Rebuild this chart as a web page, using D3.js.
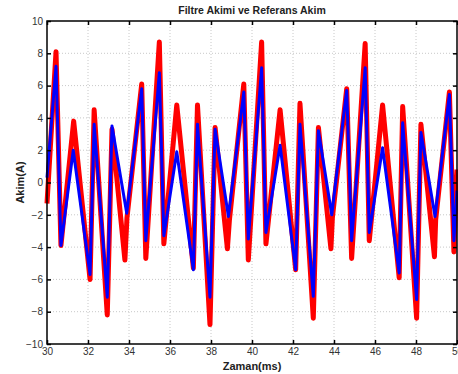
<!DOCTYPE html>
<html>
<head>
<meta charset="utf-8">
<script src="https://cdn.jsdelivr.net/npm/d3@7"></script>
<style>
  body { margin: 0; background: #fff; }
  svg { display: block; font-family: "Liberation Sans", Arial, sans-serif; }
  .tick text { fill: #333; font-size: 10px; }
</style>
</head>
<body>
<div id="chart"></div>
<script>
// Referans akim (blue) - corner points
const refTime = [30, 30.44, 30.68, 31.28, 32.1, 32.3, 32.94, 33.17, 33.89, 34.62, 34.82,
  35.48, 35.7, 36.33, 37.14, 37.34, 37.95, 38.2, 38.85, 39.6, 39.82,
  40.47, 40.68, 41.37, 42.13, 42.34, 42.99, 43.24, 43.89, 44.62, 44.86,
  45.52, 45.72, 46.37, 47.18, 47.35, 48.03, 48.24, 48.93, 49.63, 49.85, 50];
const refAkim = [0.3, 7.2, -3.9, 2.0, -5.7, 3.6, -7.1, 3.5, -1.9, 5.8, -3.6,
  6.8, -3.3, 1.9, -5.4, 3.6, -7.1, 3.3, -2.1, 5.6, -3.5,
  7.1, -3.1, 2.3, -5.4, 3.6, -7.05, 3.2, -2.0, 5.7, -3.6,
  7.1, -3.1, 2.15, -5.6, 3.7, -7.25, 3.1, -2.1, 5.45, -3.6, -0.5];

// Filtre akimi (red) - noisy, overshoots the reference at the corners
const filTime = [30, 30.44, 30.68, 31.3, 32.1, 32.3, 32.94, 33.17, 33.8, 33.9, 34.62, 34.82,
  35.48, 35.7, 36.33, 37.14, 37.34, 37.95, 38.2, 38.8, 38.9, 39.6, 39.82,
  40.47, 40.68, 41.37, 42.13, 42.34, 42.99, 43.24, 43.85, 43.92, 44.62, 44.86,
  45.52, 45.72, 46.37, 47.18, 47.35, 48.03, 48.24, 48.9, 48.96, 49.63, 49.85, 50];
const filAkim = [-1.3, 8.1, -3.9, 3.8, -6.0, 4.5, -8.2, 3.3, -4.8, -2.2, 6.1, -4.7,
  8.7, -3.8, 4.8, -5.3, 4.8, -8.8, 3.4, -4.1, -2.3, 6.1, -4.8,
  8.7, -3.8, 4.5, -5.4, 4.9, -8.4, 3.4, -4.1, -2.2, 5.8, -4.7,
  8.6, -3.6, 4.8, -5.9, 4.7, -8.4, 3.6, -4.6, -2.3, 5.6, -4.3, 0.8];

const xTicks = [30, 32, 34, 36, 38, 40, 42, 44, 46, 48, 50];
const yTicks = [-10, -8, -6, -4, -2, 0, 2, 4, 6, 8, 10];

const width = 458, height = 374;
const margin = {top: 21, right: 1, bottom: 30, left: 47};
const w = width - margin.left - margin.right;
const h = height - margin.top - margin.bottom;

const svg = d3.select('#chart').append('svg')
  .attr('width', width)
  .attr('height', height);

const g = svg.append('g')
  .attr('transform', 'translate(' + margin.left + ',' + margin.top + ')');

const x = d3.scaleLinear().domain([30, 50]).range([0, w]);
const y = d3.scaleLinear().domain([-10, 10]).range([h, 0]);

// dotted grid
g.append('g').selectAll('line').data(xTicks.slice(1, -1))
  .enter().append('line')
  .attr('x1', d => x(d)).attr('x2', d => x(d))
  .attr('y1', 0).attr('y2', h)
  .attr('stroke', '#c8c8c8').attr('stroke-dasharray', '1,2');
g.append('g').selectAll('line').data(yTicks.slice(1, -1))
  .enter().append('line')
  .attr('x1', 0).attr('x2', w)
  .attr('y1', d => y(d)).attr('y2', d => y(d))
  .attr('stroke', '#c8c8c8').attr('stroke-dasharray', '1,2');

const line = d3.line().x(d => x(d[0])).y(d => y(d[1]));

g.append('path')
  .datum(d3.zip(filTime, filAkim))
  .attr('fill', 'none')
  .attr('stroke', '#ff0000')
  .attr('stroke-width', 5)
  .attr('stroke-linejoin', 'round')
  .attr('d', line);

g.append('path')
  .datum(d3.zip(refTime, refAkim))
  .attr('fill', 'none')
  .attr('stroke', '#0000ff')
  .attr('stroke-width', 3)
  .attr('stroke-linejoin', 'round')
  .attr('d', line);

// axes, ticks pointing inward
g.append('g')
  .attr('transform', 'translate(0,' + h + ')')
  .call(d3.axisBottom(x).tickValues(xTicks).tickSizeInner(-4).tickSizeOuter(0).tickPadding(4))
  .call(a => a.select('.domain').remove());
g.append('g')
  .call(d3.axisLeft(y).tickValues(yTicks).tickSizeInner(-4).tickSizeOuter(0).tickPadding(4))
  .call(a => a.select('.domain').remove());
g.append('g')
  .call(d3.axisTop(x).tickValues(xTicks).tickSizeInner(-4).tickSizeOuter(0).tickFormat(''))
  .call(a => a.select('.domain').remove());
g.append('g')
  .attr('transform', 'translate(' + w + ',0)')
  .call(d3.axisRight(y).tickValues(yTicks).tickSizeInner(-4).tickSizeOuter(0).tickFormat(''))
  .call(a => a.select('.domain').remove());
g.selectAll('.tick line').attr('stroke', '#000').attr('stroke-width', 1.5);

g.append('rect')
  .attr('width', w).attr('height', h)
  .attr('fill', 'none')
  .attr('stroke', '#000')
  .attr('stroke-width', 1.5);

svg.append('text')
  .attr('x', margin.left + w / 2).attr('y', 14)
  .attr('text-anchor', 'middle')
  .attr('font-size', 10.5).attr('font-weight', 'bold')
  .attr('fill', '#222')
  .text('Filtre Akimi ve Referans Akim');

svg.append('text')
  .attr('x', margin.left + w / 2).attr('y', 370)
  .attr('text-anchor', 'middle')
  .attr('font-size', 11).attr('font-weight', 'bold')
  .attr('fill', '#222')
  .text('Zaman(ms)');

svg.append('text')
  .attr('transform', 'translate(24,' + (margin.top + h / 2) + ') rotate(-90)')
  .attr('text-anchor', 'middle')
  .attr('font-size', 11).attr('font-weight', 'bold')
  .attr('fill', '#222')
  .text('Akim(A)');
</script>
</body>
</html>
